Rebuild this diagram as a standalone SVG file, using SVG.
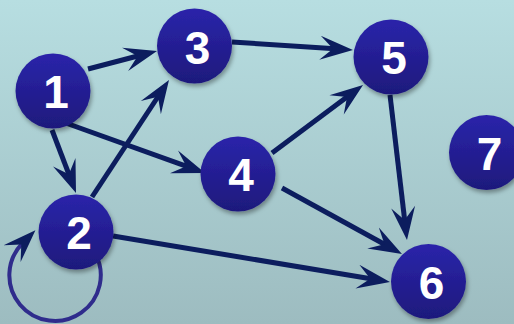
<svg xmlns="http://www.w3.org/2000/svg" width="514" height="324" viewBox="0 0 514 324">
  <defs>
    <linearGradient id="bg" x1="0" y1="0" x2="0" y2="1">
      <stop offset="0" stop-color="#b7dee1"/>
      <stop offset="1" stop-color="#9dbcc0"/>
    </linearGradient>
    <linearGradient id="nodeFill" x1="0" y1="0" x2="0" y2="1">
      <stop offset="0" stop-color="#2a24aa"/>
      <stop offset="1" stop-color="#1e197c"/>
    </linearGradient>
    <filter id="shadow" x="-30%" y="-30%" width="160%" height="160%">
      <feDropShadow dx="1.5" dy="3" stdDeviation="2" flood-color="#000" flood-opacity="0.35"/>
    </filter>
    <marker id="arrow" markerUnits="userSpaceOnUse" viewBox="-14 -13 35 26" refX="2" refY="0" markerWidth="35" markerHeight="26" orient="auto">
      <path d="M20,0 L-13,-12 L0,0 L-13,12 Z" fill="#0c1d5e"/>
    </marker>
  </defs>
  <style>
    .edge { stroke: #0c1d5e; stroke-width: 5; fill: none; marker-end: url(#arrow); }
    .loop { stroke: #2f2c8c; stroke-width: 4; fill: none; marker-end: url(#arrow); }
    .node circle { fill: url(#nodeFill); filter: url(#shadow); }
    .node text { fill: #ffffff; font-family: "Liberation Sans", Arial, sans-serif; font-weight: bold; font-size: 46px; text-anchor: middle; }
  </style>

  <rect x="0" y="0" width="514" height="324" fill="url(#bg)"/>

  <g id="connectors">
    <path class="loop" d="M94.6,252.4 A45.7,45.7 0 1 1 22.7,243"/>
    <line class="edge" x1="88" y1="69" x2="139.6" y2="55.5"/>
    <line class="edge" x1="232" y1="42" x2="335" y2="48.8"/>
    <line class="edge" x1="52" y1="130" x2="69.6" y2="176.2"/>
    <line class="edge" x1="63" y1="122" x2="188.1" y2="166.9"/>
    <line class="edge" x1="92" y1="197" x2="159.1" y2="95"/>
    <line class="edge" x1="113" y1="236" x2="372.2" y2="279"/>
    <line class="edge" x1="272" y1="153" x2="348.6" y2="95.8"/>
    <line class="edge" x1="282" y1="188" x2="386.2" y2="245.3"/>
    <line class="edge" x1="390" y1="95" x2="404.9" y2="222.1"/>
  </g>

  <g id="node1" class="node"><circle cx="53" cy="91" r="37.5"/><text x="56" y="108">1</text></g>
  <g id="node2" class="node"><circle cx="76" cy="232" r="37.5"/><text x="79" y="249">2</text></g>
  <g id="node3" class="node"><circle cx="194.5" cy="46" r="37.5"/><text x="197.5" y="64">3</text></g>
  <g id="node4" class="node"><circle cx="238" cy="174" r="37.5"/><text x="241" y="191">4</text></g>
  <g id="node5" class="node"><circle cx="391" cy="57" r="37.5"/><text x="394" y="74">5</text></g>
  <g id="node6" class="node"><circle cx="428.5" cy="281.5" r="37.5"/><text x="431.5" y="299">6</text></g>
  <g id="node7" class="node"><circle cx="486.5" cy="152.5" r="37.5"/><text x="489.5" y="170">7</text></g>
</svg>
